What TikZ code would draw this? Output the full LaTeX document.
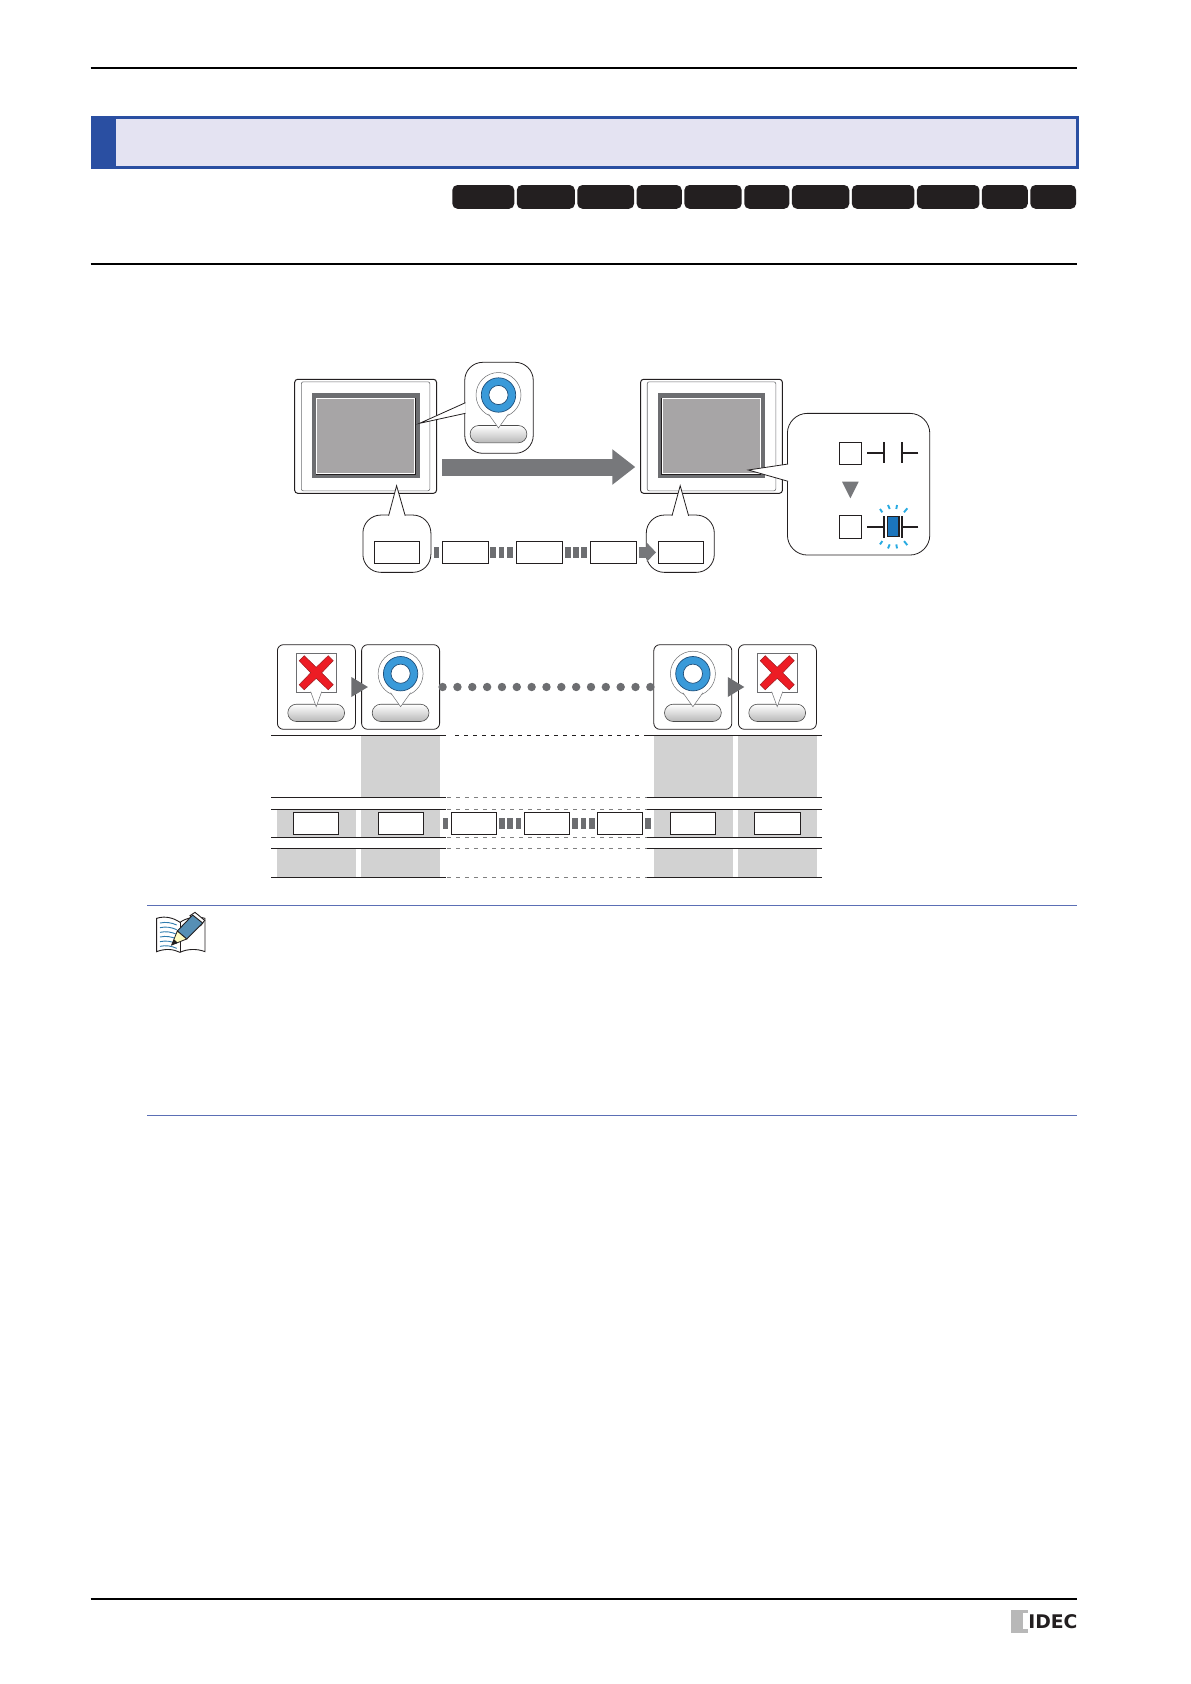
\documentclass[tikz,border=0pt]{standalone}
\usepackage{fontspec}
\usetikzlibrary{positioning,arrows.meta,calc}
\newfontfamily\logofont{DejaVu Sans}
\definecolor{inkblack}{HTML}{231F20}
\definecolor{midgray}{HTML}{6D6E71}
\definecolor{flowgray}{HTML}{77787B}
\definecolor{lcdgray}{HTML}{A7A5A6}
\definecolor{rowgray}{HTML}{D2D2D2}
\definecolor{barblue}{HTML}{2A4FA2}
\definecolor{barfill}{HTML}{E4E3F2}
\definecolor{notebar}{HTML}{5B6FB5}
\definecolor{ringblue}{HTML}{3A9AD9}
\definecolor{ringedge}{HTML}{1F4E79}
\definecolor{lampblue}{HTML}{1B75BC}
\definecolor{raycyan}{HTML}{27AAE1}
\definecolor{crossred}{HTML}{ED1C24}
\definecolor{crossedge}{HTML}{9E1C20}
\tikzset{
  every node/.style={inner sep=0pt,outer sep=0pt},
  monitor/.style={draw=inkblack,line width=1pt,rounded corners=3pt,fill=white,minimum width=141.8pt,minimum height=114pt},
  moninner/.style={draw=midgray,line width=.6pt,rounded corners=2pt,minimum width=128.6pt,minimum height=109pt},
  monback/.style={fill=midgray,minimum width=107.6pt,minimum height=85pt},
  lcdrim/.style={fill=inkblack,minimum width=100pt,minimum height=77pt},
  lcd/.style={fill=lcdgray,draw=white,line width=1.1pt,minimum width=98pt,minimum height=75pt},
  bubble/.style={draw=inkblack,line width=.8pt,rounded corners=18pt,fill=white},
  tipline/.style={draw=inkblack,line width=.8pt,fill=white},
  recbox/.style={draw=inkblack,line width=.8pt,fill=white,minimum width=45.5pt,minimum height=22pt},
  gapbar/.style={fill=midgray,minimum width=5.7pt,minimum height=11pt},
  panelbox/.style={draw=inkblack,line width=.8pt,rounded corners=6pt,fill=white,minimum width=78pt,minimum height=84.6pt},
  pillbtn/.style={draw=black!70,line width=.6pt,rounded corners=8.6pt,top color=white,bottom color=black!28},
  blackpill/.style={fill=inkblack,rounded corners=5pt,minimum height=23.7pt},
  lineswitch/.style={draw=inkblack,line width=1.8pt},
  rayline/.style={draw=raycyan,line width=1.9pt},
  rowrule/.style={draw=inkblack,line width=.7pt},
  rowdash/.style={draw=black!50,line width=1pt,dash pattern=on 3.5pt off 5.5pt},
  pagerule/.style={draw=black,line width=2pt},
  noterule/.style={draw=notebar,line width=.8pt},
  flowarrow/.style={draw=flowgray,line width=17pt,-{Triangle[width=34pt,length=23pt]}},
  minorarrow/.style={draw=flowgray,line width=11pt,-{Triangle[width=18.4pt,length=9pt]}},
  dotline/.style={draw=midgray,line width=8.4pt,line cap=round,dash pattern=on 0pt off 14.84pt},
  ringpin/.pic={
    \draw[pillbtn] (-28.4,30.5) rectangle (28.4,47.8);
    \draw[draw=midgray,line width=.5pt,fill=white] (0,0) circle (22.5);
    \draw[draw=midgray,line width=.5pt,fill=white] (-10,19) -- (0,33) -- (10,19);
    \draw[draw=ringedge,line width=.7pt,fill=ringblue] (0,0) circle (17.2);
    \draw[draw=ringedge,line width=.7pt,fill=white] (0,0) circle (9.6);
  },
  crosspin/.pic={
    \draw[pillbtn] (-28.4,30.5) rectangle (28.4,47.8);
    \draw[draw=midgray,line width=.5pt,fill=white] (-19.8,-20.4) rectangle (19.8,18.6);
    \draw[draw=midgray,line width=.5pt,fill=white] (-5.5,18) -- (0,33) -- (5.5,18);
    \draw[draw=crossedge,line width=.5pt,fill=crossred] (-17,-13) -- (-12,-18) -- (0,-6.4) -- (12,-18) -- (17,-13) -- (5.5,-.9)
      -- (17,11) -- (12,16) -- (0,4.6) -- (-12,16) -- (-17,11) -- (-5.5,-.9) -- cycle;
  },
}

\begin{document}
\begin{tikzpicture}[x=1pt,y=-1pt]
\useasboundingbox (0,0) rectangle (1191,1684);

% page furniture
\draw[pagerule] (90.5,68) -- (1077.4,68);
\draw[pagerule] (90.5,263.7) -- (1077.4,263.7);
\draw[pagerule] (90.5,1598.7) -- (1077.4,1598.7);
\node[draw=barblue,line width=3pt,fill=barfill,minimum width=985pt,minimum height=50pt] (titlebar) at (584.7,142.5) {};
\fill[barblue] (90.7,116) rectangle (116,169);
\node[blackpill,minimum width=61.9pt] (tag1) at (483.3,196.9) {};
\node[blackpill,minimum width=58pt,right=2.6pt of tag1] (tag2) {};
\node[blackpill,minimum width=56.7pt,right=2.5pt of tag2] (tag3) {};
\node[blackpill,minimum width=45.1pt,right=2.6pt of tag3] (tag4) {};
\node[blackpill,minimum width=57.3pt,right=2.6pt of tag4] (tag5) {};
\node[blackpill,minimum width=45.1pt,right=2.6pt of tag5] (tag6) {};
\node[blackpill,minimum width=57.3pt,right=2.6pt of tag6] (tag7) {};
\node[blackpill,minimum width=62.5pt,right=2.6pt of tag7] (tag8) {};
\node[blackpill,minimum width=62.5pt,right=2.6pt of tag8] (tag9) {};
\node[blackpill,minimum width=45.8pt,right=2.5pt of tag9] (tag10) {};
\node[blackpill,minimum width=45.7pt,right=2.6pt of tag10] (tag11) {};

% monitors
\node[monitor] (monL) at (365.6,436.3) {};
\node[moninner] (monLi) at (monL) {};
\node[monback] (backL) at (365.8,435.8) {};
\node[lcdrim] (rimL) at (365.5,436) {};
\node[lcd] (lcdL) at (365.9,436.4) {};
\node[monitor] (monR) at (711.5,436.3) {};
\node[moninner] (monRi) at (monR) {};
\node[monback] (backR) at (711.6,435.8) {};
\node[lcdrim] (rimR) at (711.4,436) {};
\node[lcd] (lcdR) at (711.8,436.4) {};

\coordinate (flowA) at ($(monL.east)+(5.7,30.7)$);
\coordinate (flowB) at ($(monR.west)+(-5.3,30.7)$);
\draw[flowarrow] (flowA) -- (flowB);

% callouts
\node[bubble,minimum width=68.5pt,minimum height=91pt] (callTop) at (499,407.8) {};
\coordinate (tipTop) at (419.6,423.3);
\draw[tipline] ($(callTop.west)+(.7,-5.1)$) -- (tipTop) -- ($(callTop.west)+(.7,5.5)$);
\pic at (498.5,395) {ringpin};

\node[bubble,minimum width=68pt,minimum height=57.3pt] (callBL) at (396.9,543.7) {};
\coordinate (tipBL) at (396.6,485.7);
\draw[tipline] ($(callBL.north)+(-8.3,.7)$) -- (tipBL) -- ($(callBL.north)+(8.3,.7)$);
\node[bubble,minimum width=68pt,minimum height=57.3pt] (callBR) at (680.3,543.7) {};
\coordinate (tipBR) at (680.2,485.7);
\draw[tipline] ($(callBR.north)+(-8.3,.7)$) -- (tipBR) -- ($(callBR.north)+(8.3,.7)$);

\node[bubble,rounded corners=20pt,minimum width=142.4pt,minimum height=141.7pt] (callR) at (858.6,484.2) {};
\coordinate (tipR) at (748.3,470);
\draw[tipline] ($(callR.west)+(.7,-20.2)$) -- (tipR) -- ($(callR.west)+(.7,-2.9)$);

% contact before and after
\node[recbox,minimum width=22pt] (sqOff) at (850.5,453.3) {};
\node[recbox,minimum width=22pt,minimum height=23pt] (sqOn) at (850.5,526.8) {};
\draw[lineswitch] (867.3,452.7) -- (884,452.7) (884,442.3) -- (884,463.3);
\draw[lineswitch] (918.3,452.7) -- (902,452.7) (902,442.3) -- (902,463.3);
\fill[flowgray] (842,481.7) -- (858.7,481.7) -- (850.4,498.3) -- cycle;
\draw[lineswitch] (867.3,526.7) -- (884,526.7) (884,516) -- (884,537.7);
\draw[lineswitch] (918.3,526.7) -- (902,526.7) (902,516) -- (902,537.7);
\node[draw=inkblack,line width=1.2pt,fill=lampblue,minimum width=11.7pt,minimum height=20pt] (lamp) at (893.1,526.7) {};
\foreach \xa/\ya/\xb/\yb in {880/509/882.3/512.3,888/505/889.7/509,897/505/896.3/509,907.3/508.3/904/512.3} {
  \draw[rayline] (\xa,\ya) -- (\xb,\yb);
  \draw[rayline] (\xa,1053.4-\ya) -- (\xb,1053.4-\yb);
}

% record strip under the monitors
\node[recbox] (rec1) at (397.1,552.3) {};
\node[recbox,right=22.6pt of rec1] (rec2) {};
\node[recbox,right=28.6pt of rec2] (rec3) {};
\node[recbox,right=28.6pt of rec3] (rec4) {};
\node[recbox,right=22pt of rec4] (rec5) {};
\node[gapbar,minimum width=5.5pt] (barA) at ($(rec1.east)+(16.7,0)$) {};
\foreach \k in {0,1,2} {
  \node[gapbar] (barB\k) at ($(rec2.east)+(5+\k*8.4,0)$) {};
  \node[gapbar] (barC\k) at ($(rec3.east)+(5.8+\k*8.2,0)$) {};
}
\draw[minorarrow,shorten <=2.6pt,shorten >=2.2pt] (rec4) -- (rec5);

% second figure, panels
\node[panelbox] (sel1) at (316.4,687) {};
\node[panelbox] (sel2) at (400.6,687) {};
\node[panelbox] (sel3) at (692.8,687) {};
\node[panelbox] (sel4) at (777.4,687) {};
\pic at (316.2,673.7) {crosspin};
\pic at (400.6,673.7) {ringpin};
\pic at (692.9,673.7) {ringpin};
\pic at (777.2,673.7) {crosspin};
\fill[midgray] ($(sel1.east)+(-4,-10)$) -- ($(sel1.east)+(12.5,0)$) -- ($(sel1.east)+(-4,10)$) -- cycle;
\fill[midgray] ($(sel3.east)+(-4,-10)$) -- ($(sel3.east)+(12.5,0)$) -- ($(sel3.east)+(-4,10)$) -- cycle;
\draw[dotline,shorten <=3pt,shorten >=2.9pt] (sel2) -- (sel3);

% table rows
\foreach \cx in {361,654,738} {
  \fill[rowgray] (\cx,735.3) rectangle ++(79.2,62);
}
\foreach \cx in {277,361,654,738} {
  \fill[rowgray] (\cx,809.3) rectangle ++(79.2,28);
  \fill[rowgray] (\cx,848.7) rectangle ++(79.2,28.6);
}
\foreach \ry in {735.3,797.3,809.3,837.3,848.7,877.3} {
  \draw[rowrule] (271,\ry) -- (446,\ry);
  \draw[rowdash] (447,\ry) -- (646.6,\ry);
  \draw[rowrule] (646.6,\ry) -- (821.6,\ry);
}
\draw[draw=white,line width=1.6pt] (446,735.3) -- (646.6,735.3);
\draw[draw=inkblack,line width=.8pt,dash pattern=on 3.5pt off 5.5pt] (455,735.3) -- (646.6,735.3);
\node[recbox] (row1) at (316,823.3) {};
\node[recbox] (row2) at (401,823.3) {};
\node[recbox] (row3) at (474,823.3) {};
\node[recbox,right=27.3pt of row3] (row4) {};
\node[recbox,right=27.7pt of row4] (row5) {};
\node[recbox] (row6) at (693,823.3) {};
\node[recbox] (row7) at (777.2,823.3) {};
\node[gapbar,minimum width=5pt] (barD) at ($(row3.west)+(-5.8,0)$) {};
\node[gapbar] (barE) at ($(row5.east)+(5.1,0)$) {};
\foreach \k in {0,1,2} {
  \node[gapbar] (barF\k) at ($(row3.east)+(5+\k*8.4,0)$) {};
  \node[gapbar] (barG\k) at ($(row4.east)+(5.3+\k*8.5,0)$) {};
}

% note block
\draw[noterule] (147.3,905.3) -- (1077.4,905.3);
\draw[noterule] (147.3,1115) -- (1077.4,1115);
\begin{scope}[shift={(140,895)},x=.3333pt,y=-.3333pt]
  \draw[draw=inkblack,line width=.9pt,fill=white] (50,70) .. controls (75,62) and (100,68) .. (120,82) .. controls (140,68) and (170,62) .. (195,70)
    -- (195,170) .. controls (170,160) and (140,162) .. (120,172) .. controls (100,162) and (75,160) .. (50,170) -- cycle;
  \draw[draw=inkblack,line width=.7pt] (120,82) -- (120,172);
  \foreach \ly in {0,1,2,3,4,5} {
    \draw[draw=ringblue!80!black,line width=.9pt] (60,84+\ly*14) .. controls (78,80+\ly*14) and (95,83+\ly*14) .. (110,90+\ly*14);
  }
  \draw[draw=inkblack,line width=.9pt,fill=white] (150,62) -- (165,52) -- (194,76) -- (182,92) -- cycle;
  \draw[draw=inkblack,line width=.9pt,fill=ringblue!75!black!80!white] (112,108) -- (158,60) -- (188,84) -- (140,132) -- cycle;
  \draw[draw=inkblack,line width=.8pt,fill=yellow!25] (112,108) -- (95,150) -- (140,132) -- cycle;
  \fill[inkblack] (102,133) -- (95,150) -- (113,143) -- cycle;
\end{scope}

% logo
\fill[black!28] (1010.7,1610) rectangle (1028.3,1632.7);
\fill[white] (1022.7,1612.7) rectangle (1028.3,1629.3);
\node[anchor=west,font=\logofont\bfseries\fontsize{18.8}{19}\selectfont,text=inkblack] (logo) at (1028.3,1621.4) {IDEC};
\end{tikzpicture}
\end{document}
